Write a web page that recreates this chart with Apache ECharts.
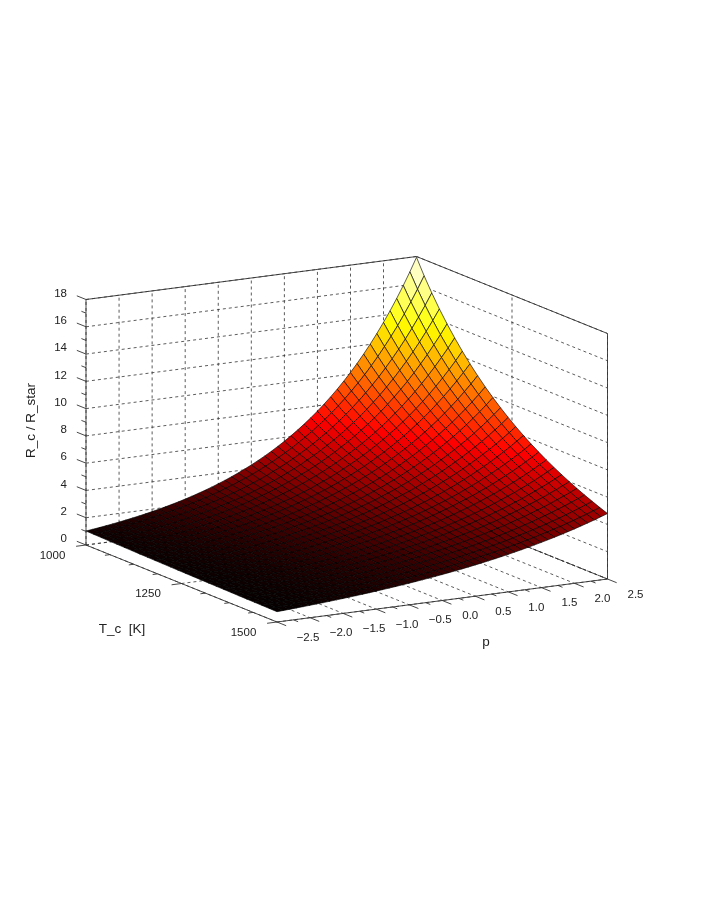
<!DOCTYPE html>
<html><head><meta charset="utf-8">
<style>html,body{margin:0;padding:0;background:#fff}#c{width:708px;height:917px}</style>
<script src="https://cdn.jsdelivr.net/npm/echarts@6/dist/echarts.min.js"></script></head>
<body><div id="c"></div>
<script>
const pValues=[-2.5,-2.4,-2.3,-2.2,-2.1,-2,-1.9,-1.8,-1.7,-1.6,-1.5,-1.4,-1.3,-1.2,-1.1,-1,-0.9,-0.8,-0.7,-0.6,-0.5,-0.4,-0.3,-0.2,-0.1,0,0.1,0.2,0.3,0.4,0.5,0.6,0.7,0.8,0.9,1,1.1,1.2,1.3,1.4,1.5,1.6,1.7,1.8,1.9,2,2.1,2.2,2.3,2.4,2.5];
const tValues=[1000,1020,1040,1060,1080,1100,1120,1140,1160,1180,1200,1220,1240,1260,1280,1300,1320,1340,1360,1380,1400,1420,1440,1460,1480,1500];
const surfaceRows=[
[1.026,1.086,1.150,1.218,1.290,1.366,1.447,1.532,1.622,1.718,1.819,1.926,2.039,2.159,2.286,2.421,2.564,2.715,2.875,3.044,3.223,3.413,3.614,3.827,4.052,4.291,4.544,4.811,5.095,5.395,5.712,6.049,6.405,6.782,7.181,7.604,8.052,8.526,9.028,9.560,10.12,10.72,11.35,12.02,12.73,13.48,14.27,15.11,16.00,16.94,17.94],
[1.011,1.069,1.131,1.197,1.266,1.339,1.417,1.499,1.585,1.677,1.774,1.877,1.985,2.100,2.221,2.350,2.486,2.630,2.782,2.943,3.113,3.292,3.483,3.684,3.897,4.122,4.361,4.613,4.880,5.162,5.461,5.777,6.111,6.464,6.838,7.234,7.652,8.094,8.563,9.058,9.582,10.13,10.72,11.34,12.00,12.69,13.42,14.20,15.02,15.89,16.81],
[.996,1.053,1.113,1.176,1.243,1.313,1.388,1.467,1.550,1.638,1.731,1.830,1.934,2.043,2.159,2.282,2.411,2.548,2.693,2.846,3.008,3.179,3.359,3.550,3.752,3.965,4.191,4.429,4.681,4.946,5.227,5.524,5.838,6.170,6.520,6.890,7.282,7.695,8.132,8.594,9.082,9.599,10.14,10.72,11.33,11.97,12.65,13.37,14.13,14.93,15.78],
[.982,1.037,1.095,1.156,1.220,1.289,1.360,1.436,1.516,1.601,1.690,1.785,1.885,1.990,2.101,2.218,2.342,2.473,2.611,2.756,2.910,3.072,3.244,3.425,3.616,3.817,4.030,4.255,4.492,4.743,5.008,5.287,5.582,5.894,6.223,6.570,6.937,7.324,7.732,8.164,8.619,9.101,9.609,10.14,10.71,11.31,11.94,12.60,13.31,14.05,14.83],
[.969,1.022,1.078,1.137,1.199,1.265,1.334,1.407,1.484,1.565,1.651,1.742,1.837,1.938,2.044,2.156,2.274,2.399,2.531,2.669,2.815,2.970,3.133,3.305,3.486,3.677,3.878,4.090,4.314,4.551,4.800,5.063,5.341,5.633,5.942,6.268,6.611,6.974,7.356,7.759,8.184,8.634,9.107,9.606,10.13,10.69,11.28,11.89,12.55,13.23,13.96],
[.955,1.007,1.061,1.118,1.178,1.242,1.309,1.379,1.453,1.532,1.614,1.701,1.793,1.889,1.991,2.098,2.211,2.330,2.455,2.587,2.727,2.874,3.028,3.191,3.363,3.544,3.735,3.936,4.148,4.371,4.607,4.856,5.117,5.393,5.683,5.989,6.312,6.652,7.010,7.388,7.785,8.205,8.647,9.113,9.603,10.12,10.67,11.24,11.85,12.48,13.16],
[.943,.992,1.045,1.100,1.158,1.220,1.284,1.352,1.423,1.499,1.578,1.662,1.749,1.842,1.939,2.042,2.150,2.264,2.384,2.510,2.642,2.782,2.929,3.084,3.247,3.419,3.600,3.790,3.991,4.202,4.424,4.659,4.906,5.165,5.438,5.726,6.029,6.348,6.684,7.037,7.410,7.800,8.212,8.647,9.104,9.586,10.09,10.63,11.19,11.78,12.41],
[.930,.978,1.029,1.083,1.139,1.198,1.261,1.326,1.395,1.468,1.544,1.624,1.708,1.797,1.890,1.989,2.092,2.201,2.315,2.435,2.562,2.695,2.835,2.982,3.137,3.300,3.472,3.652,3.842,4.042,4.252,4.473,4.705,4.950,5.207,5.477,5.762,6.062,6.377,6.708,7.056,7.423,7.809,8.215,8.642,9.091,9.563,10.06,10.58,11.13,11.71],
[.918,.965,1.014,1.066,1.120,1.177,1.238,1.301,1.367,1.437,1.510,1.588,1.669,1.754,1.843,1.938,2.036,2.140,2.249,2.364,2.485,2.612,2.745,2.885,3.033,3.188,3.350,3.521,3.701,3.890,4.089,4.297,4.517,4.747,4.990,5.244,5.512,5.794,6.089,6.400,6.727,7.070,7.431,7.810,8.209,8.628,9.067,9.530,10.02,10.53,11.07],
[.906,.952,1.000,1.050,1.102,1.157,1.216,1.277,1.341,1.408,1.478,1.553,1.630,1.712,1.798,1.888,1.983,2.082,2.187,2.296,2.412,2.532,2.659,2.793,2.933,3.080,3.235,3.397,3.567,3.746,3.934,4.132,4.339,4.556,4.785,5.025,5.277,5.541,5.819,6.111,6.418,6.740,7.078,7.433,7.806,8.197,8.608,9.040,9.493,9.969,10.47],
[.895,.939,.985,1.034,1.085,1.138,1.194,1.253,1.315,1.379,1.447,1.519,1.594,1.672,1.755,1.841,1.932,2.027,2.127,2.232,2.342,2.457,2.578,2.705,2.838,2.978,3.125,3.279,3.440,3.610,3.788,3.974,4.170,4.376,4.591,4.818,5.055,5.304,5.565,5.839,6.127,6.429,6.746,7.079,7.427,7.793,8.177,8.580,9.002,9.446,9.911],
[.884,.927,.972,1.019,1.068,1.120,1.174,1.230,1.290,1.352,1.418,1.487,1.559,1.634,1.713,1.796,1.883,1.974,2.070,2.170,2.275,2.385,2.500,2.621,2.748,2.881,3.021,3.167,3.320,3.481,3.650,3.826,4.011,4.205,4.409,4.622,4.846,5.081,5.327,5.585,5.855,6.138,6.435,6.747,7.074,7.416,7.776,8.152,8.547,8.960,9.394],
[.873,.915,.958,1.004,1.052,1.102,1.154,1.209,1.266,1.326,1.389,1.456,1.525,1.597,1.673,1.753,1.836,1.923,2.015,2.111,2.211,2.316,2.426,2.542,2.662,2.789,2.922,3.061,3.206,3.359,3.519,3.686,3.861,4.045,4.237,4.439,4.650,4.871,5.103,5.345,5.600,5.866,6.145,6.437,6.743,7.064,7.399,7.751,8.120,8.506,8.911],
[.863,.903,.945,.989,1.036,1.084,1.135,1.188,1.243,1.301,1.362,1.426,1.492,1.562,1.635,1.711,1.791,1.875,1.963,2.054,2.150,2.251,2.356,2.466,2.581,2.702,2.828,2.960,3.098,3.243,3.394,3.553,3.719,3.893,4.075,4.265,4.464,4.672,4.891,5.119,5.358,5.609,5.871,6.145,6.432,6.733,7.047,7.376,7.721,8.081,8.459],
[.853,.892,.933,.975,1.020,1.067,1.116,1.167,1.221,1.277,1.335,1.397,1.461,1.528,1.598,1.671,1.748,1.828,1.912,2.000,2.091,2.187,2.288,2.393,2.502,2.617,2.737,2.863,2.994,3.132,3.275,3.426,3.583,3.748,3.920,4.100,4.287,4.484,4.690,4.905,5.130,5.365,5.612,5.869,6.139,6.420,6.715,7.023,7.345,7.682,8.035],
[.843,.881,.921,.962,1.006,1.051,1.098,1.148,1.199,1.253,1.310,1.369,1.431,1.495,1.562,1.633,1.706,1.783,1.864,1.948,2.035,2.127,2.223,2.323,2.428,2.538,2.652,2.771,2.896,3.027,3.163,3.306,3.455,3.611,3.773,3.943,4.122,4.308,4.502,4.705,4.917,5.138,5.370,5.612,5.865,6.129,6.405,6.694,6.996,7.311,7.641],
[.833,.870,.909,.949,.991,1.035,1.081,1.128,1.178,1.230,1.285,1.342,1.401,1.463,1.528,1.596,1.667,1.740,1.817,1.898,1.982,2.070,2.161,2.257,2.357,2.461,2.570,2.684,2.803,2.927,3.057,3.192,3.334,3.481,3.635,3.796,3.965,4.140,4.324,4.515,4.715,4.923,5.141,5.369,5.607,5.855,6.115,6.385,6.668,6.963,7.272],
[.824,.860,.897,.936,.977,1.019,1.064,1.110,1.158,1.209,1.261,1.316,1.373,1.433,1.495,1.560,1.628,1.699,1.773,1.850,1.930,2.014,2.102,2.193,2.289,2.388,2.492,2.600,2.713,2.831,2.955,3.083,3.217,3.357,3.503,3.656,3.815,3.981,4.154,4.334,4.523,4.720,4.925,5.139,5.363,5.596,5.839,6.093,6.358,6.635,6.923],
[.815,.850,.886,.924,.963,1.004,1.047,1.092,1.139,1.187,1.238,1.291,1.346,1.404,1.464,1.526,1.591,1.659,1.730,1.804,1.881,1.962,2.046,2.133,2.224,2.319,2.418,2.522,2.629,2.742,2.859,2.981,3.108,3.241,3.380,3.524,3.675,3.832,3.995,4.166,4.344,4.530,4.723,4.925,5.136,5.355,5.584,5.822,6.071,6.330,6.601],
[.806,.840,.875,.912,.950,.990,1.031,1.075,1.120,1.167,1.216,1.267,1.320,1.375,1.433,1.493,1.556,1.621,1.689,1.760,1.834,1.911,1.991,2.074,2.162,2.252,2.347,2.445,2.548,2.655,2.766,2.882,3.003,3.129,3.261,3.398,3.540,3.688,3.843,4.005,4.173,4.348,4.531,4.721,4.919,5.125,5.340,5.565,5.798,6.042,6.295],
[.797,.830,.864,.900,.937,.976,1.016,1.058,1.101,1.147,1.194,1.243,1.294,1.348,1.403,1.461,1.521,1.584,1.649,1.717,1.788,1.862,1.939,2.019,2.102,2.188,2.278,2.372,2.470,2.572,2.678,2.788,2.903,3.023,3.147,3.277,3.412,3.553,3.699,3.852,4.011,4.176,4.348,4.527,4.714,4.908,5.110,5.321,5.540,5.769,6.007],
[.789,.821,.854,.888,.924,.962,1.001,1.041,1.083,1.127,1.173,1.220,1.270,1.321,1.375,1.430,1.488,1.549,1.611,1.677,1.744,1.815,1.888,1.965,2.044,2.127,2.213,2.303,2.396,2.493,2.594,2.699,2.808,2.922,3.040,3.163,3.291,3.425,3.563,3.707,3.857,4.013,4.176,4.345,4.521,4.704,4.894,5.092,5.298,5.513,5.736],
[.781,.812,.844,.877,.912,.948,.986,1.026,1.066,1.109,1.153,1.199,1.246,1.296,1.347,1.401,1.456,1.514,1.574,1.637,1.702,1.770,1.840,1.913,1.989,2.068,2.151,2.236,2.325,2.418,2.514,2.613,2.717,2.825,2.937,3.054,3.176,3.302,3.433,3.570,3.712,3.859,4.013,4.172,4.338,4.510,4.690,4.876,5.070,5.272,5.481],
[.773,.803,.834,.866,.900,.935,.972,1.010,1.049,1.090,1.133,1.177,1.223,1.271,1.320,1.372,1.426,1.481,1.539,1.599,1.661,1.726,1.794,1.864,1.936,2.012,2.090,2.172,2.257,2.345,2.437,2.531,2.630,2.733,2.840,2.951,3.066,3.185,3.309,3.439,3.573,3.713,3.858,4.008,4.165,4.327,4.496,4.672,4.854,5.044,5.240],
[.765,.794,.824,.856,.889,.923,.958,.995,1.033,1.073,1.114,1.157,1.201,1.247,1.295,1.344,1.396,1.450,1.505,1.563,1.623,1.685,1.749,1.816,1.886,1.958,2.033,2.111,2.192,2.276,2.363,2.454,2.548,2.645,2.747,2.852,2.962,3.075,3.193,3.315,3.442,3.574,3.711,3.853,4.001,4.154,4.314,4.479,4.651,4.829,5.014],
[.757,.785,.815,.846,.878,.911,.945,.980,1.017,1.055,1.095,1.136,1.179,1.223,1.269,1.317,1.367,1.418,1.472,1.527,1.585,1.644,1.706,1.770,1.837,1.906,1.978,2.052,2.129,2.209,2.293,2.379,2.468,2.561,2.657,2.757,2.861,2.969,3.080,3.196,3.317,3.441,3.571,3.705,3.844,3.989,4.140,4.295,4.457,4.625,4.799]];
const pMajor=[-2.5,-2,-1.5,-1,-0.5,0,0.5,1,1.5,2,2.5];
const pMinor=[-2.25,-1.75,-1.25,-0.75,-0.25,0.25,0.75,1.25,1.75,2.25];
const pLabels=['\u22122.5','\u22122.0','\u22121.5','\u22121.0','\u22120.5','0.0','0.5','1.0','1.5','2.0','2.5'];
const tMajor=[1000,1250,1500];
const tMinor=[1062.5,1125,1187.5,1312.5,1375,1437.5];
const zMajor=[0,2,4,6,8,10,12,14,16,18];
const zMinor=[1,3,5,7,9,11,13,15,17];

const P0=-2.5,P1=2.5,T0=1000,T1=1500,Z1=18;
function project(p,T,z){
  const u=(p-P0)/(P1-P0),v=(T-T0)/(T1-T0),w=z/Z1;
  return [86+330.5*u+191*v, 545-43*u+77*v-245.5*w];
}
const cells=[];
for(let i=0;i<tValues.length-1;i++){
  for(let j=pValues.length-2;j>=0;j--){
    const r=surfaceRows,m=(r[i][j]+r[i+1][j]+r[i][j+1]+r[i+1][j+1])/4;
    cells.push([i,j,m]);
  }
}
// segments: p0,T0,z0,p1,T1,z1,style
const back=[],front=[];
const tickT=24,tickP=0.15;
zMajor.forEach(z=>{back.push([P0,T0,z,P1,T0,z,0]);back.push([P1,T0,z,P1,T1,z,0]);
  front.push([P0,T0,z,P0,T0-tickT,z,1]);});
zMinor.forEach(z=>front.push([P0,T0,z,P0,T0-tickT/2,z,1]));
pMajor.forEach(p=>{back.push([p,T0,0,p,T0,Z1,0]);back.push([p,T0,0,p,T1,0,0]);
  front.push([p,T1,0,p,T1+tickT,0,1]);});
pMinor.forEach(p=>front.push([p,T1,0,p,T1+tickT/2,0,1]));
tMajor.forEach(T=>{back.push([P1,T,0,P1,T,Z1,0]);back.push([P0,T,0,P1,T,0,0]);
  front.push([P0,T,0,P0-tickP,T,0,1]);});
tMinor.forEach(T=>front.push([P0,T,0,P0-tickP/2,T,0,1]));
back.push([P1,T0,0,P1,T1,0,2]);
front.push([P0,T0,0,P0,T0,Z1,1],[P1,T1,0,P1,T1,Z1,1],[P0,T0,Z1,P1,T0,Z1,1],[P1,T0,Z1,P1,T1,Z1,1],
  [P0,T0,0,P0,T1,0,1],[P0,T1,0,P1,T1,0,1]);
const axisColor='#333';
function segItem(params,api){
  const a=project(api.value(0),api.value(1),api.value(2)),b=project(api.value(3),api.value(4),api.value(5));
  const A=api.coord(a),B=api.coord(b),k=api.value(6);
  const dash=k===0?[3,3]:k===2?[10,1.5]:null;
  return {type:'line',shape:{x1:A[0],y1:A[1],x2:B[0],y2:B[1]},
    style:{stroke:axisColor,lineWidth:k===0?0.8:0.9,lineDash:dash}};
}
const font='11.5px "Liberation Sans", Arial, sans-serif',nameFont='13.5px "Liberation Sans", Arial, sans-serif';
const labels=[];
zMajor.forEach(z=>labels.push({name:String(z),value:[P0,T0,z,-19,-6,2]}));
tMajor.forEach(T=>labels.push({name:String(T),value:[P0,T,0,-33.5,10.5,0]}));
pMajor.forEach((p,i)=>labels.push({name:pLabels[i],value:[p,T1,0,p<0?31:28,15.5,0]}));
function textItem(params,api){
  const c=api.coord(project(api.value(0),api.value(1),api.value(2)));
  const al=api.value(5)===2?'right':'center';
  return {type:'text',x:c[0]+api.value(3),y:c[1]+api.value(4),
    style:{text:labels[params.dataIndex].name,font:font,fill:'#222',align:al,verticalAlign:'middle'}};
}
const axisTitles=[{name:'T_c  [K]',value:[122,629,0]},{name:'p',value:[486,642,0]},{name:'R_c / R_star',value:[31,420.5,1]}];
function titleItem(params,api){
  const c=api.coord([api.value(0),api.value(1)]);
  return {type:'text',x:c[0],y:c[1],rotation:api.value(2)?Math.PI/2:0,
    style:{text:axisTitles[params.dataIndex].name,font:nameFont,fill:'#222',align:'center',verticalAlign:'middle'}};
}
function cellItem(params,api){
  const i=api.value(0),j=api.value(1),r=surfaceRows;
  const pts=[[j,i],[j+1,i],[j+1,i+1],[j,i+1]].map(q=>api.coord(project(pValues[q[0]],tValues[q[1]],r[q[1]][q[0]])));
  return {type:'polygon',shape:{points:pts},style:{fill:api.visual('color'),stroke:'#000',lineWidth:0.7,strokeOpacity:0.9,lineJoin:'round'}};
}
const chart=echarts.init(document.getElementById('c'),null,{renderer:'canvas'});
chart.setOption({
  animation:false,backgroundColor:'#fff',
  grid:{left:0,right:0,top:0,bottom:0},
  xAxis:{type:'value',min:0,max:708,show:false},
  yAxis:{type:'value',min:0,max:917,inverse:true,show:false},
  visualMap:{show:false,type:'continuous',seriesIndex:1,dimension:2,min:0.6,max:17.94,
    inRange:{color:['#000000','#550000','#aa0000','#ff0000','#ff5500','#ffaa00','#ffff00','#ffff80','#ffffff']}},
  series:[
    {type:'custom',data:back,renderItem:segItem,silent:true,z:1,clip:false,encode:{x:0,y:1}},
    {type:'custom',data:cells,renderItem:cellItem,silent:true,z:2,clip:false,encode:{x:0,y:1},progressive:0},
    {type:'custom',data:front,renderItem:segItem,silent:true,z:3,clip:false,encode:{x:0,y:1}},
    {type:'custom',data:labels,renderItem:textItem,silent:true,z:4,clip:false,encode:{x:0,y:1}},
    {type:'custom',data:axisTitles,renderItem:titleItem,silent:true,z:4,clip:false,encode:{x:0,y:1}}
  ]
});
</script></body></html>
